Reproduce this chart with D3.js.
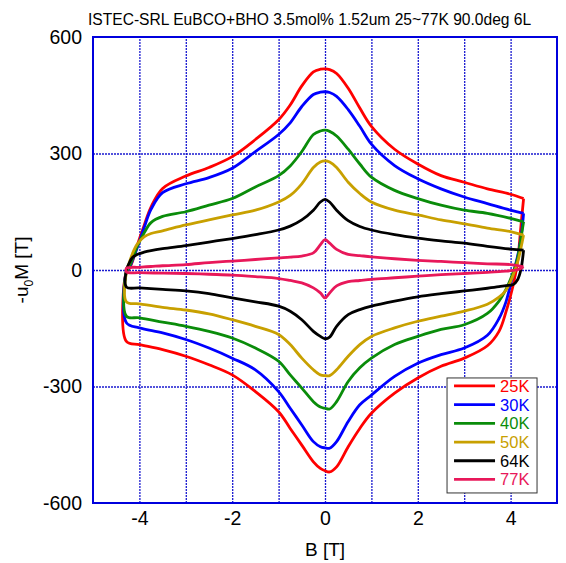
<!DOCTYPE html>
<html lang="en">
<head>
<meta charset="UTF-8">
<title>Hysteresis loops</title>
<script src="https://d3js.org/d3.v7.min.js"></script>
<style>
  body { margin: 0; padding: 0; background: #fff; }
  svg { display: block; font-family: 'Liberation Sans', Arial, sans-serif; }
  .tick-label { font-size: 19.5px; fill: #000; }
  .axis-title { font-size: 19px; fill: #000; }
  .title { font-size: 15.6px; fill: #000; }
  .legend-text { font-size: 16.5px; }
</style>
</head>
<body>
<svg width="566" height="563"></svg>
<script>
// temperatures / series
const temps = ["25K", "30K", "40K", "50K", "64K", "77K"];
const colors = ["#ff0000", "#0000ff", "#0a8c0a", "#c8a000", "#000000", "#e8185a"];

// field sweep down (upper branch) and sweep up (lower branch), in T
const fieldDown = [4.28, 4.0, 3.5, 3.0, 2.5, 2.0, 1.5, 1.0, 0.75, 0.5, 0.25, 0.1, 0, -0.1, -0.25, -0.5, -0.75, -1.0, -1.5, -2.0, -2.5, -3.0, -3.5, -3.75, -3.9, -4.05, -4.15, -4.22, -4.28];
const fieldUp = [-4.28, -4.0, -3.5, -3.0, -2.5, -2.0, -1.5, -1.0, -0.75, -0.5, -0.25, -0.1, 0, 0.1, 0.25, 0.5, 0.75, 1.0, 1.5, 2.0, 2.5, 3.0, 3.5, 3.75, 3.9, 4.05, 4.15, 4.22, 4.28];

// upper branch -u0M values (aligned with fieldDown)
const upper25 = [184, 195, 209, 226, 243, 273, 311, 370, 417, 468, 506, 516, 518, 517, 510, 474, 425, 387, 336, 292, 264, 242, 210, 162, 114, 62, 22, 3, -5];
const upper30 = [146, 154, 171, 188, 209, 235, 269, 324, 370, 413, 447, 457, 459, 458, 452, 421, 379, 349, 305, 262, 238, 222, 199, 156, 108, 56, 25, 5, -5];
const upper40 = [124, 133, 146, 154, 167, 184, 205, 239, 273, 311, 345, 357, 360, 358, 349, 305, 268, 243, 214, 184, 167, 150, 138, 122, 95, 60, 28, 8, -5];
const upper50 = [90, 99, 108, 119, 129, 142, 154, 175, 197, 226, 264, 278, 281, 278, 264, 222, 192, 175, 154, 142, 129, 116, 101, 94, 85, 66, 42, 18, -5];
const upper64 = [51, 54, 61, 69, 75, 82, 91, 103, 112, 127, 154, 175, 182, 175, 154, 129, 113, 103, 91, 81, 72, 63, 55, 50, 46, 40, 32, 18, 0];
const upper77 = [8, 14, 16, 19, 22, 25, 29, 34, 37, 40, 53, 69, 78, 65, 44, 36, 33, 31, 27, 23, 19, 14, 11, 9, 8, 7, 7, 6, 5];

// lower branch -u0M values (aligned with fieldUp)
const lower25 = [-184, -192, -205, -222, -244, -270, -313, -365, -408, -451, -494, -511, -517, -520, -507, -455, -408, -369, -317, -278, -248, -227, -195, -158, -108, -42, 22, 110, 184];
const lower30 = [-136, -149, -162, -179, -201, -227, -257, -313, -356, -399, -442, -455, -458, -459, -442, -390, -347, -322, -274, -240, -218, -201, -168, -125, -82, -12, 35, 80, 146];
const lower40 = [-119, -123, -134, -145, -158, -175, -201, -235, -270, -304, -339, -353, -356, -358, -339, -287, -252, -227, -192, -171, -153, -141, -112, -80, -50, -8, 30, 80, 124];
const lower50 = [-82, -87, -96, -103, -113, -128, -145, -166, -192, -227, -257, -270, -272, -272, -257, -222, -192, -171, -149, -132, -119, -106, -88, -70, -52, -15, 20, 55, 90];
const lower64 = [-44, -46, -50, -54, -61, -72, -82, -93, -106, -128, -158, -171, -177, -173, -145, -115, -102, -93, -80, -69, -61, -54, -47, -43, -40, -38, -25, 0, 51];
const lower77 = [-5, -7, -8, -9, -11, -13, -17, -22, -27, -33, -46, -59, -72, -59, -41, -30, -27, -24, -20, -16, -12, -9, -6, -4, -3, -1, 1, 4, 8];

const upperSeries = [upper25, upper30, upper40, upper50, upper64, upper77];
const lowerSeries = [lower25, lower30, lower40, lower50, lower64, lower77];

const xTicks = [-4, -2, 0, 2, 4];
const yTicks = [600, 300, 0, -300, -600];
const xGrid = [-4, -3, -2, -1, 0, 1, 2, 3, 4];
const yGrid = [-300, 0, 300];

const svg = d3.select("svg");
const margin = { top: 37, right: 9, bottom: 60, left: 93 };
const width = +svg.attr("width") - margin.left - margin.right;
const height = +svg.attr("height") - margin.top - margin.bottom;

const x = d3.scaleLinear().domain([-5, 5]).range([0, width]);
const y = d3.scaleLinear().domain([-600, 600]).range([height, 0]);

const g = svg.append("g").attr("transform", `translate(${margin.left},${margin.top})`);

// grid
g.append("g")
    .attr("transform", `translate(0,${height})`)
    .call(d3.axisBottom(x).tickValues(xGrid).tickSize(-height).tickFormat(""))
    .call(a => a.select(".domain").remove())
    .selectAll("line")
    .attr("stroke", "#1a1ad0")
    .attr("stroke-width", 1.3)
    .attr("stroke-dasharray", "2,1");

g.append("g")
    .call(d3.axisLeft(y).tickValues(yGrid).tickSize(-width).tickFormat(""))
    .call(a => a.select(".domain").remove())
    .selectAll("line")
    .attr("stroke", "#1a1ad0")
    .attr("stroke-width", 1.3)
    .attr("stroke-dasharray", "2,1");

// tick labels (plain hyphen for negatives, like the original)
const xAxis = g.append("g")
    .attr("transform", `translate(0,${height})`)
    .call(d3.axisBottom(x).tickValues(xTicks).tickSize(0).tickPadding(8).tickFormat(d => String(d)));
xAxis.select(".domain").remove();
xAxis.selectAll("text").attr("class", "tick-label").attr("font-family", null).attr("font-size", null);

const yAxis = g.append("g")
    .call(d3.axisLeft(y).tickValues(yTicks).tickSize(0).tickPadding(11).tickFormat(d => String(d)));
yAxis.select(".domain").remove();
yAxis.selectAll("text").attr("class", "tick-label").attr("font-family", null).attr("font-size", null);

// loops
const line = d3.line()
    .x(d => x(d[0]))
    .y(d => y(d[1]))
    .curve(d3.curveCatmullRom.alpha(0.5));

temps.forEach(function(t, i) {
    const pts = fieldDown.map((b, j) => [b, upperSeries[i][j]])
        .concat(fieldUp.map((b, j) => [b, lowerSeries[i][j]]));
    g.append("path")
        .datum(pts)
        .attr("fill", "none")
        .attr("stroke", colors[i])
        .attr("stroke-width", 2.8)
        .attr("stroke-linejoin", "round")
        .attr("d", line);
});

// frame
g.append("rect")
    .attr("width", width)
    .attr("height", height)
    .attr("fill", "none")
    .attr("stroke", "#0000dd")
    .attr("stroke-width", 2);

// legend
const legend = g.append("g").attr("transform", `translate(${x(2.63)},${y(-278)})`);
legend.append("rect")
    .attr("width", 90)
    .attr("height", 115)
    .attr("fill", "#fff")
    .attr("stroke", "#333")
    .attr("stroke-width", 1);
temps.forEach(function(t, i) {
    const ly = 8 + i * 18.7;
    legend.append("line")
        .attr("x1", 7).attr("x2", 48)
        .attr("y1", ly).attr("y2", ly)
        .attr("stroke", colors[i])
        .attr("stroke-width", 2.8);
    legend.append("text")
        .attr("class", "legend-text")
        .attr("x", 53).attr("y", ly)
        .attr("dy", "0.36em")
        .attr("fill", colors[i])
        .text(t);
});

// titles
svg.append("text")
    .attr("class", "title")
    .attr("x", 88)
    .attr("y", 25)
    .text("ISTEC-SRL EuBCO+BHO 3.5mol% 1.52um 25~77K 90.0deg 6L");

svg.append("text")
    .attr("class", "axis-title")
    .attr("x", margin.left + width / 2)
    .attr("y", 556)
    .attr("text-anchor", "middle")
    .text("B [T]");

const yl = svg.append("text")
    .attr("class", "axis-title")
    .attr("transform", `translate(28,${margin.top + height / 2}) rotate(-90)`)
    .attr("text-anchor", "middle");
yl.append("tspan").text("-u");
yl.append("tspan").attr("font-size", "12px").attr("dy", "5").text("0");
yl.append("tspan").attr("dy", "-5").text("M [T]");
</script>
</body>
</html>
